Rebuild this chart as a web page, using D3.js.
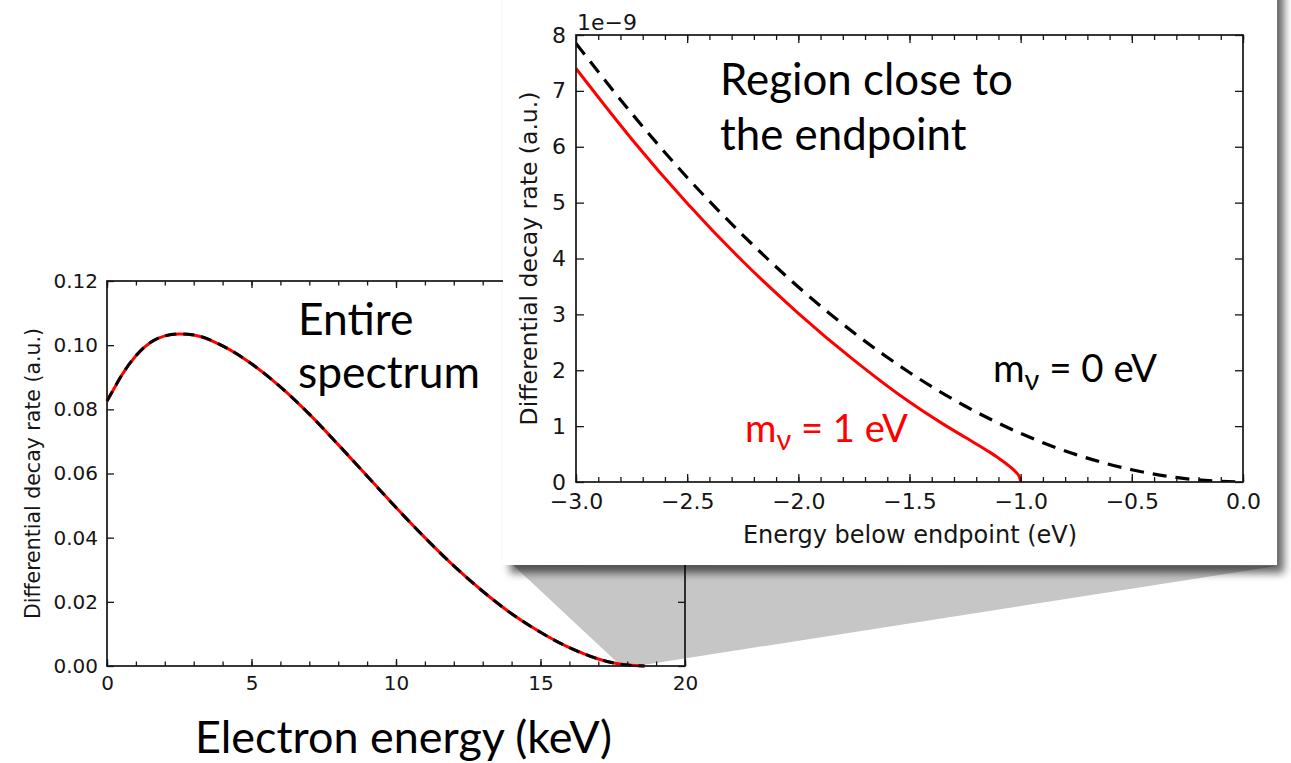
<!DOCTYPE html>
<html>
<head>
<meta charset="utf-8">
<script src="https://cdn.jsdelivr.net/npm/d3@7"></script>
<style>
  html, body { margin: 0; padding: 0; background: #fff; }
  svg { display: block; }
  .tick text { font-family: "DejaVu Sans", sans-serif; fill: #151515; }
  .tick line { stroke: #151515; stroke-width: 1.3; }
  .slide { font-family: Lato, "Open Sans", "DejaVu Sans", sans-serif; }
</style>
</head>
<body>
<svg id="fig" width="1291" height="763"></svg>
<script>
// Entire spectrum (left panel)
const energyKeV = [0, 0.25, 0.5, 1, 1.5, 2, 2.5, 3, 4, 5, 6, 7, 8, 9, 10, 11, 12, 13, 14, 15, 16, 17, 17.5, 18, 18.6];
const rateFull  = [0.0826, 0.0866, 0.0905, 0.0967, 0.1008, 0.1029, 0.1035, 0.1032, 0.0998, 0.0942, 0.0870, 0.0785,
                   0.0690, 0.0592, 0.0494, 0.0400, 0.0312, 0.0233, 0.0163, 0.0105, 0.0057, 0.0022, 0.0010, 0.0003, 0];

// Region close to the endpoint (right panel), rate in units of 1e-9
const offsetMassless = [-3, -2.75, -2.5, -2.25, -2, -1.75, -1.5, -1.25, -1, -0.75, -0.5, -0.25, 0];
const rateMassless   = [7.85, 6.60, 5.45, 4.42, 3.49, 2.67, 1.96, 1.36, 0.87, 0.49, 0.22, 0.055, 0];
const offsetMassive  = [-3, -2.75, -2.5, -2.25, -2, -1.75, -1.5, -1.35, -1.25, -1.15, -1.1, -1.05, -1.02, -1.005, -1.0];
const rateMassive    = [7.40, 6.14, 4.99, 3.95, 3.02, 2.18, 1.43, 1.04, 0.80, 0.56, 0.43, 0.28, 0.17, 0.085, 0];

const leftXTicks  = [0, 5, 10, 15, 20];
const leftYTicks  = [0, 0.02, 0.04, 0.06, 0.08, 0.10, 0.12];
const rightXTicks = [-3, -2.5, -2, -1.5, -1, -0.5, 0];
const rightYTicks = [0, 1, 2, 3, 4, 5, 6, 7, 8];

const svg = d3.select('#fig');
const defs = svg.append('defs');

// drop shadow for the inset "card"
const shadow = defs.append('filter').attr('id', 'shadow')
  .attr('x', '-5%').attr('y', '-5%').attr('width', '115%').attr('height', '115%');
shadow.append('feDropShadow')
  .attr('dx', 7).attr('dy', 8).attr('stdDeviation', 4)
  .attr('flood-color', '#000').attr('flood-opacity', 0.6);

class Panel {
  constructor(cfg) {
    this.cfg = cfg;
    let vis = this;
    vis.x = d3.scaleLinear().domain(cfg.xDomain).range([cfg.x0, cfg.x1]);
    vis.y = d3.scaleLinear().domain(cfg.yDomain).range([cfg.y1, cfg.y0]);
  }

  drawAxes(g) {
    let vis = this, c = vis.cfg;
    let fs = c.fontSize;

    // minor ticks first (no labels)
    if (c.xMinor) {
      g.append('g').attr('transform', `translate(0,${c.y1})`)
        .call(d3.axisBottom(vis.x).tickValues(c.xMinor).tickFormat('').tickSize(-c.minor))
        .call(a => a.select('.domain').remove());
      g.append('g').attr('transform', `translate(0,${c.y0})`)
        .call(d3.axisTop(vis.x).tickValues(c.xMinor).tickFormat('').tickSize(-c.minor))
        .call(a => a.select('.domain').remove());
    }

    g.append('g').attr('transform', `translate(0,${c.y1})`)
      .call(d3.axisBottom(vis.x).tickValues(c.xTicks).tickFormat(c.xFormat).tickSize(-c.major).tickPadding(c.pad))
      .call(a => a.select('.domain').remove())
      .call(a => a.selectAll('text').attr('font-size', fs).attr('dy', '0.76em'));
    g.append('g').attr('transform', `translate(0,${c.y0})`)
      .call(d3.axisTop(vis.x).tickValues(c.xTicks).tickFormat('').tickSize(-c.major))
      .call(a => a.select('.domain').remove());

    g.append('g').attr('transform', `translate(${c.x0},0)`)
      .call(d3.axisLeft(vis.y).tickValues(c.yTicks).tickFormat(c.yFormat).tickSize(-c.major).tickPadding(c.pad))
      .call(a => a.select('.domain').remove())
      .call(a => a.selectAll('text').attr('font-size', fs));
    g.append('g').attr('transform', `translate(${c.x1},0)`)
      .call(d3.axisRight(vis.y).tickValues(c.yTicks).tickFormat('').tickSize(-c.major))
      .call(a => a.select('.domain').remove());

    // spines
    g.append('rect')
      .attr('x', c.x0).attr('y', c.y0)
      .attr('width', c.x1 - c.x0).attr('height', c.y1 - c.y0)
      .attr('fill', 'none').attr('stroke', '#151515').attr('stroke-width', 1.7);

    g.append('text')
      .attr('transform', `translate(${c.yLabelX},${(c.y0 + c.y1) / 2}) rotate(-90)`)
      .attr('text-anchor', 'middle')
      .attr('font-family', 'DejaVu Sans, sans-serif')
      .attr('font-size', c.labelSize).attr('fill', '#151515')
      .text('Differential decay rate (a.u.)');
  }

  drawLine(g, xs, ys, style) {
    let vis = this;
    let pts = xs.map((d, i) => [d, ys[i]]);
    let line = d3.line()
      .x(d => vis.x(d[0]))
      .y(d => vis.y(d[1]))
      .curve(d3.curveMonotoneX);
    g.append('path')
      .datum(pts)
      .attr('d', line)
      .attr('fill', 'none')
      .attr('stroke', style.color)
      .attr('stroke-width', style.width)
      .attr('stroke-dasharray', style.dash || null)
      .attr('clip-path', style.clip ? `url(#${style.clip})` : null);
  }
}

// scale a text's font size so it spans the wanted width
function fitText(sel, width) {
  let fs = parseFloat(sel.attr('font-size'));
  let w = sel.node().getComputedTextLength();
  sel.attr('font-size', (fs * width / w).toFixed(2));
}

// ---------- left panel ----------
let left = new Panel({
  x0: 107, x1: 685, y0: 281, y1: 666,
  xDomain: [0, 20], yDomain: [0, 0.12],
  xTicks: leftXTicks, yTicks: leftYTicks,
  xMinor: d3.range(0, 21, 1),
  xFormat: d3.format('d'), yFormat: d3.format('.2f'),
  major: 7, minor: 4.5, pad: 9, fontSize: 20, labelSize: 20.5,
  yLabelX: 40
});

// zoom cone from the endpoint to the inset card
let box = { x: 503, y: -20, w: 774, h: 585 };
let coneG = svg.append('g');
coneG.append('path')
  .attr('d', d3.line()([
    [left.x(17.75), left.y(0) - 1],
    [left.x(18.55), left.y(0) - 1],
    [box.x + box.w, box.y + box.h + 1],
    [box.x + 10, box.y + box.h]
  ]) + 'Z')
  .attr('fill', '#c6c6c6');

let gl = svg.append('g');
left.drawLine(gl, energyKeV, rateFull, { color: '#ff0000', width: 3 });
left.drawLine(gl, energyKeV, rateFull, { color: '#000', width: 3, dash: '11,7' });
left.drawAxes(gl);

let entire = svg.append('text').attr('class', 'slide')
  .attr('x', 298).attr('y', 335).attr('font-size', 40).attr('fill', '#000').text('Entire');
let spectrum = svg.append('text').attr('class', 'slide')
  .attr('x', 298).attr('y', 388).attr('font-size', 40).attr('fill', '#000').text('spectrum');
fitText(spectrum, 182);
entire.attr('font-size', spectrum.attr('font-size'));

let eLabel = svg.append('text').attr('class', 'slide')
  .attr('x', 195).attr('y', 753).attr('font-size', 44).attr('fill', '#000')
  .text('Electron energy (keV)');
fitText(eLabel, 417);

// ---------- inset card ----------
svg.append('rect')
  .attr('x', box.x).attr('y', box.y).attr('width', box.w).attr('height', box.h)
  .attr('fill', '#fff').attr('filter', 'url(#shadow)');

let right = new Panel({
  x0: 576, x1: 1243, y0: 35, y1: 482,
  xDomain: [-3, 0], yDomain: [0, 8],
  xTicks: rightXTicks, yTicks: rightYTicks,
  xMinor: d3.range(-30, 1, 1).map(d => d / 10),
  xFormat: d3.format('.1f'), yFormat: d3.format('d'),
  major: 8, minor: 5, pad: 10, fontSize: 22, labelSize: 23.5,
  yLabelX: 537
});

defs.append('clipPath').attr('id', 'clipR')
  .append('rect').attr('x', 576).attr('y', 35).attr('width', 667).attr('height', 447);

let gr = svg.append('g');
right.drawLine(gr, offsetMassive, rateMassive, { color: '#ff0000', width: 3, clip: 'clipR' });
right.drawLine(gr, offsetMassless, rateMassless, { color: '#000', width: 3.2, dash: '14,9', clip: 'clipR' });
right.drawAxes(gr);

gr.append('text')
  .attr('x', 577).attr('y', 30)
  .attr('font-family', 'DejaVu Sans, sans-serif').attr('font-size', 22).attr('fill', '#151515')
  .text('1e\u22129');

gr.append('text')
  .attr('x', 910).attr('y', 543)
  .attr('text-anchor', 'middle')
  .attr('font-family', 'DejaVu Sans, sans-serif').attr('font-size', 24).attr('fill', '#151515')
  .text('Energy below endpoint (eV)');

let region = svg.append('text').attr('class', 'slide')
  .attr('x', 720).attr('y', 95).attr('font-size', 40).attr('fill', '#000').text('Region close to');
fitText(region, 293);
svg.append('text').attr('class', 'slide')
  .attr('x', 720).attr('y', 150).attr('font-size', region.attr('font-size')).attr('fill', '#000')
  .text('the endpoint');

function massLabel(x, y, value, color) {
  let t = svg.append('text').attr('class', 'slide')
    .attr('x', x).attr('y', y).attr('font-size', 34).attr('fill', color);
  t.append('tspan').text('m');
  t.append('tspan').attr('font-size', '75%').attr('dy', 8).text('\u03bd');
  t.append('tspan').attr('dy', -8).text(` = ${value} eV`);
  return t;
}
let m1 = massLabel(745, 442, 1, '#ff0000');
let m0 = massLabel(993, 382, 0, '#000');
fitText(m1, 163);
fitText(m0, 164);
</script>
</body>
</html>
